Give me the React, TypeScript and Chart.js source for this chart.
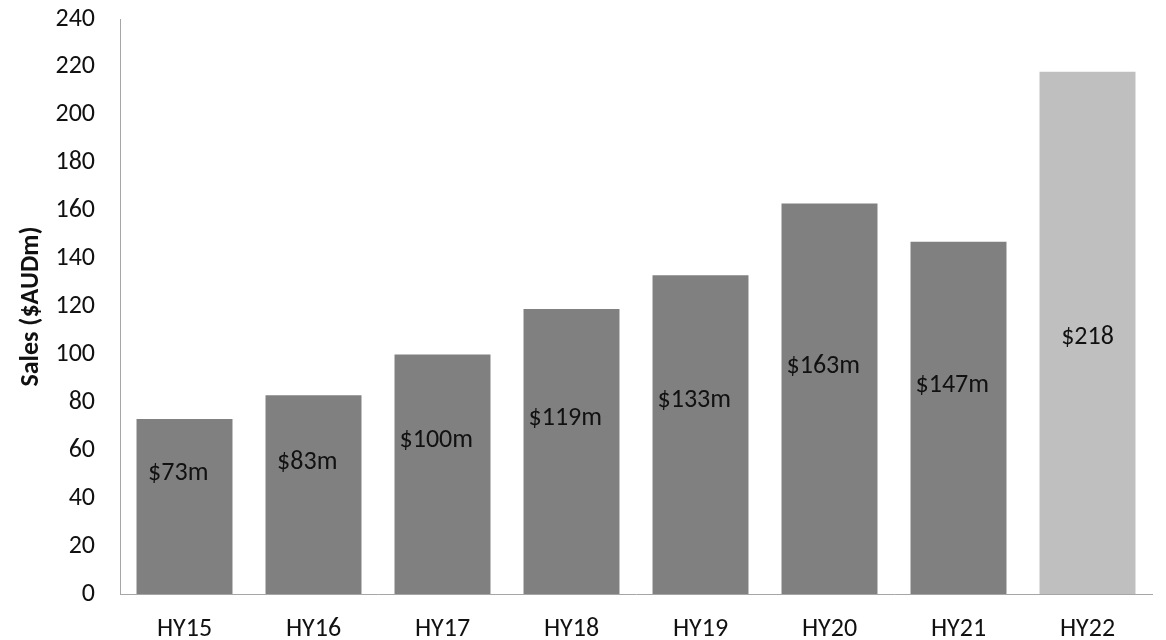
import React, { useEffect, useRef } from "react";
import { Chart, registerables } from "chart.js";

Chart.register(...registerables);

const categories = ["HY15", "HY16", "HY17", "HY18", "HY19", "HY20", "HY21", "HY22"];
const sales = [73, 83, 100, 119, 133, 163, 147, 218];
const valueLabels = ["$73m", "$83m", "$100m", "$119m", "$133m", "$163m", "$147m", "$218"];
const labelAt = [51, 55.6, 65.1, 74, 81.4, 95.6, 88, 108];
const barColors = ["#808080", "#808080", "#808080", "#808080", "#808080", "#808080", "#808080", "#bfbfbf"];

const FONT = "Carlito, 'Open Sans', sans-serif";

const labelPlugin = {
  id: "insideLabels",
  afterDatasetsDraw(chart: any) {
    const { ctx } = chart;
    const meta = chart.getDatasetMeta(0);
    const yScale = chart.scales.y;
    ctx.save();
    ctx.font = `26px ${FONT}`;
    ctx.fillStyle = "#111111";
    ctx.textBaseline = "middle";
    ctx.textAlign = "center";
    meta.data.forEach((bar: any, i: number) => {
      const text = valueLabels[i];
      const base = text.replace(/m$/, "");
      const extra = ctx.measureText(text).width - ctx.measureText(base).width;
      const y = yScale.getPixelForValue(labelAt[i]) + 2;
      ctx.fillText(text, bar.x - extra * 0.3, y);
    });
    ctx.restore();
  },
};

export default function App() {
  const ref = useRef<HTMLCanvasElement | null>(null);
  useEffect(() => {
    if (!ref.current) return;
    const chart = new Chart(ref.current, {
      type: "bar",
      data: {
        labels: categories,
        datasets: [
          {
            data: sales,
            backgroundColor: barColors,
            borderWidth: 0,
            categoryPercentage: 1,
            barPercentage: 0.744,
          },
        ],
      },
      options: {
        responsive: false,
        animation: false,
        layout: { padding: { top: 19, right: 14, bottom: 0, left: 0 } },
        plugins: {
          legend: { display: false },
          tooltip: { enabled: false },
        },
        scales: {
          x: {
            grid: { display: false, drawTicks: false },
            border: { display: true, color: "#a6a6a6", width: 1 },
            ticks: {
              color: "#111111",
              font: { family: FONT, size: 26 },
              padding: 20,
              maxRotation: 0,
            },
            afterFit: (s: any) => {
              s.height = 46;
              s.paddingLeft = 0;
              s.paddingRight = 0;
            },
          },
          y: {
            min: 0,
            max: 240,
            grid: { display: false, drawTicks: false },
            border: { display: true, color: "#a6a6a6", width: 1 },
            ticks: {
              stepSize: 20,
              color: "#111111",
              font: { family: FONT, size: 26 },
              padding: 25,
            },
            title: {
              display: true,
              text: "Sales ($AUDm)",
              color: "#111111",
              font: { family: FONT, size: 26, weight: "bold" },
              padding: { top: 16, bottom: 0 },
            },
            afterFit: (s: any) => {
              s.width = 120;
              s.paddingTop = 0;
              s.paddingBottom = 0;
            },
          },
        },
      },
      plugins: [labelPlugin],
    });
    return () => chart.destroy();
  }, []);
  return (
    <div style={{ position: "fixed", left: 0, top: 0, width: 1166, height: 640, background: "#fff" }}>
      <canvas ref={ref} width={1166} height={640} />
    </div>
  );
}
